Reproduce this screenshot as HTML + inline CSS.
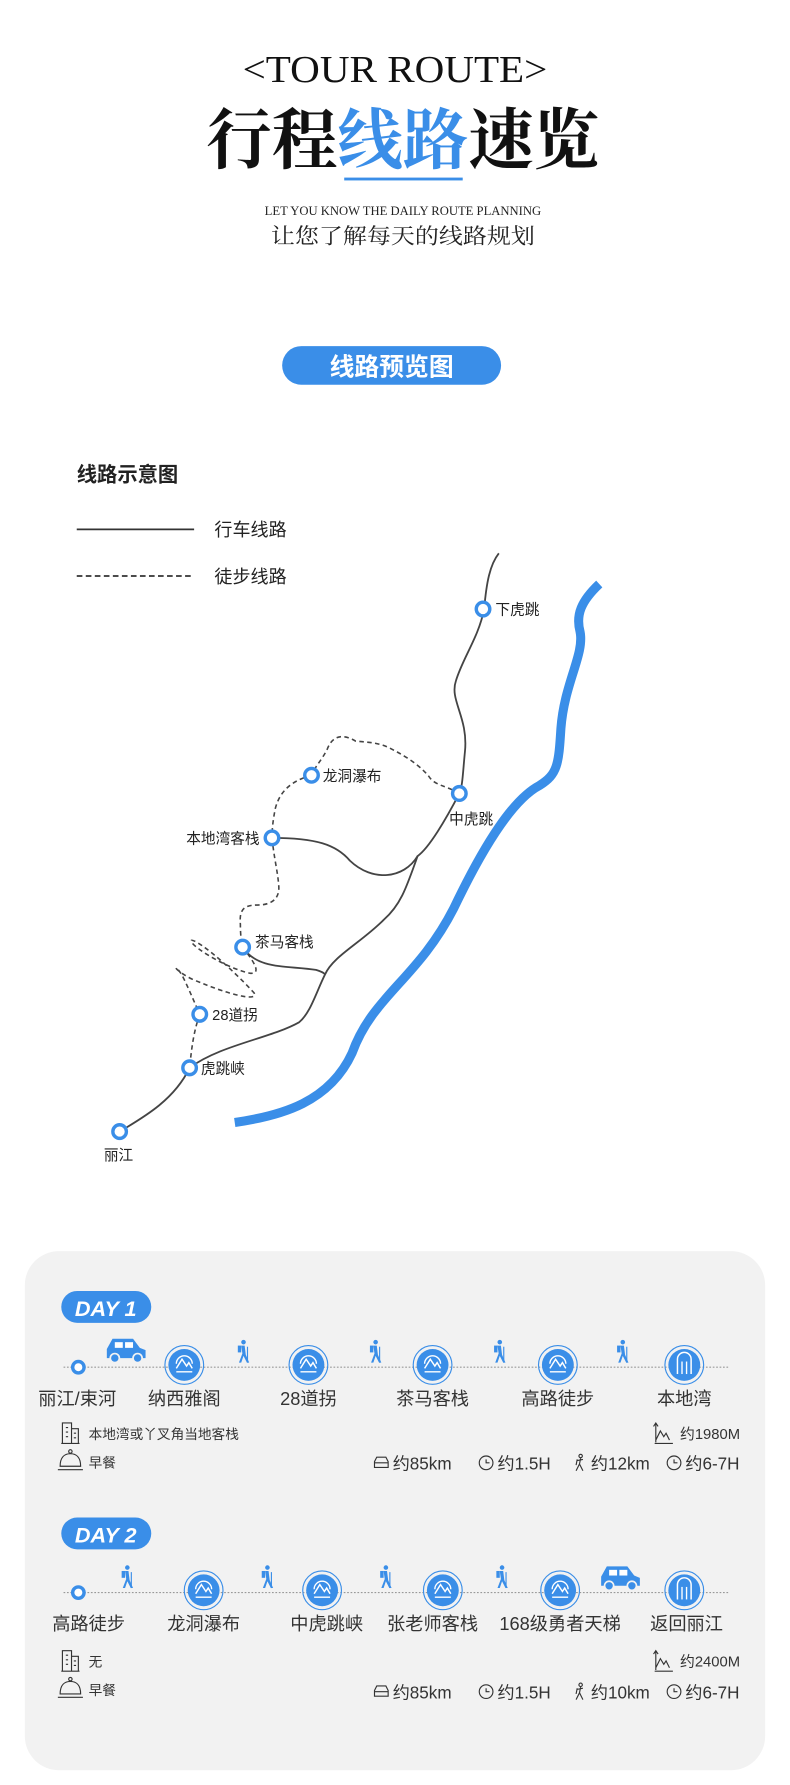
<!DOCTYPE html>
<html><head><meta charset="utf-8">
<style>
html,body{margin:0;padding:0;background:#fff;}
svg{display:block;}
text{font-family:"Liberation Sans","Noto Sans CJK SC",sans-serif;}
.serif{font-family:"Liberation Serif","Noto Serif CJK SC",serif;}
</style></head><body>
<svg width="790" height="1785" viewBox="0 0 700 1568" preserveAspectRatio="none" xmlns="http://www.w3.org/2000/svg">
<defs>
  <g id="node">
    <circle r="17" fill="none" stroke="#3a8ee8" stroke-width="1"/>
    <circle r="14" fill="#3a8ee8"/>
    <path d="M-7,3 L-2,-5 L2,1 L4,-2 L7,3" fill="none" stroke="#fff" stroke-width="1.3"/>
    <path d="M-7,-1 A7,7 0 0 1 7,-1" fill="none" stroke="#fff" stroke-width="1.2"/>
    <line x1="-7" y1="6" x2="7" y2="6" stroke="#fff" stroke-width="1.2"/>
  </g>
  <g id="endnode">
    <circle r="17" fill="none" stroke="#3a8ee8" stroke-width="1"/>
    <circle r="14" fill="#3a8ee8"/>
    <path d="M-6,8 L-6,-5 A6,6 0 0 1 6,-5 L6,8" fill="none" stroke="#fff" stroke-width="1.3"/>
    <line x1="-2" y1="-3" x2="-2" y2="8" stroke="#fff" stroke-width="1.2"/>
    <line x1="2" y1="-3" x2="2" y2="8" stroke="#fff" stroke-width="1.2"/>
  </g>
  <g id="walker" fill="#3a8ee8">
    <circle cx="1" cy="-9" r="2"/>
    <path d="M-4,-6 L-1,-6 L-1,0 L-4,0Z"/>
    <path d="M-1,-6 L2,-6 L3,2 L6,9 L4,9 L1,3 L-1,9 L-3,9 L0,1Z"/>
    <rect x="4" y="-5" width="1" height="14"/>
  </g>
  <g id="car" fill="#3a8ee8">
    <path d="M-17,6 L-17,-2 L-12,-11 L6,-11 L12,-3 L17,-1 L17,6Z"/>
    <rect x="-10" y="-8" width="7" height="5" fill="#fff"/>
    <rect x="-1" y="-8" width="7" height="5" fill="#fff"/>
    <circle cx="-10" cy="6" r="4" stroke="#f2f2f2" stroke-width="1.5"/>
    <circle cx="10" cy="6" r="4" stroke="#f2f2f2" stroke-width="1.5"/>
  </g>
  <g id="clock" fill="none" stroke="#333" stroke-width="1"><circle r="6"/><path d="M0,-3 L0,0 L3,0"/></g>
  <g id="minicar" fill="none" stroke="#333" stroke-width="1"><path d="M-6,4 L-6,-1 L-4,-5 L4,-5 L6,-1 L6,4Z M-6,0 L6,0"/></g>
  <g id="miniwalk" fill="none" stroke="#333" stroke-width="1"><circle cx="0" cy="-6" r="1.5"/><path d="M0,-4 L-1,1 L-4,7 M-1,1 L2,7 M-3,-2 L2,-3 M-3,-3 L-4,2"/></g>
  <g id="bldg" fill="none" stroke="#333" stroke-width="1"><path d="M-7,9 L-7,-9 L1,-9 L1,9 M1,-4 L7,-4 L7,9 M-8,9 L8,9 M-4,-5 L-2,-5 M-4,-1 L-2,-1 M-4,3 L-2,3 M3,0 L5,0 M3,4 L5,4"/></g>
  <g id="bell" fill="none" stroke="#333" stroke-width="1"><circle cx="0" cy="-8" r="1.5"/><path d="M-9,5 C-9,-3 -5,-6 0,-6 C5,-6 9,-3 9,5Z M-11,8 L11,8"/></g>
  <g id="mtn" fill="none" stroke="#333" stroke-width="1"><path d="M-7,8 L-7,-8 M-9,-6 L-7,-9 L-5,-6 M-7,6 L-3,-2 L0,3 L2,0 L5,6 M-8,9 L8,9"/></g>
</defs>

<!-- header -->
<text x="350" y="72" text-anchor="middle" class="serif" font-size="33" fill="#111" textLength="270" lengthAdjust="spacingAndGlyphs">&lt;TOUR ROUTE&gt;</text>
<text x="357" y="143" text-anchor="middle" class="serif" font-size="58" font-weight="bold" fill="#111" textLength="348" lengthAdjust="spacingAndGlyphs">行程<tspan fill="#3a8ee8">线路</tspan>速览</text>
<rect x="305" y="156" width="105" height="2.5" fill="#3a8ee8"/>
<text x="357" y="189" text-anchor="middle" class="serif" font-size="11" fill="#222" textLength="245" lengthAdjust="spacingAndGlyphs">LET YOU KNOW THE DAILY ROUTE PLANNING</text>
<text x="357" y="214" text-anchor="middle" class="serif" font-size="19" fill="#222" textLength="234" lengthAdjust="spacingAndGlyphs">让您了解每天的线路规划</text>

<rect x="250" y="304" width="194" height="34" rx="17" fill="#3a8ee8"/>
<text x="347" y="330" text-anchor="middle" font-size="22" font-weight="bold" fill="#fff">线路预览图</text>

<!-- legend -->
<text x="68" y="423" font-size="18" font-weight="bold" fill="#222">线路示意图</text>
<line x1="68" y1="465" x2="172" y2="465" stroke="#333" stroke-width="1.5"/>
<text x="190" y="471" font-size="16" fill="#222">行车线路</text>
<line x1="68" y1="506" x2="172" y2="506" stroke="#333" stroke-width="1.5" stroke-dasharray="5,3"/>
<text x="190" y="512" font-size="16" fill="#222">徒步线路</text>

<!-- river -->
<path d="M531,513 C515,528 510,540 514,555 C518,575 500,600 497,640 C495,672 494,680 478,690 C455,702 430,740 402,798 C370,860 330,875 312,925 C292,968 250,980 208,986" fill="none" stroke="#3a8ee8" stroke-width="8"/>

<!-- driving roads -->
<g fill="none" stroke="#444" stroke-width="1.6">
<path d="M442,486 C434,496 431,512 429,535 C424,560 410,578 404,598 C398,615 415,630 412,660 C410,680 410,690 407,697 C395,720 380,745 370,752 C360,780 355,795 340,808 C320,828 295,840 288,856 C280,872 275,890 265,898 C240,912 195,918 168,938 C155,965 130,980 106,994"/>
<path d="M241,736 C280,736 298,742 310,756 C330,775 358,772 370,752"/>
<path d="M215,832 C228,852 255,848 280,852 C287,854 288,856 288,856"/>
</g>
<!-- hiking -->
<g fill="none" stroke="#444" stroke-width="1.4" stroke-dasharray="4,3">
<path d="M407,697 C395,690 385,690 380,682 C370,670 355,662 345,657 C335,652 325,652 315,651 C305,645 295,645 290,658 C285,668 280,672 276,681"/>
<path d="M276,681 C258,686 248,695 244,710 C242,720 241,728 241,736"/>
<path d="M241,736 C243,755 246,765 247,778 C248,790 240,795 228,795 C215,795 212,800 213,812 C213,822 214,828 215,832"/>
<path d="M215,832 C225,845 232,855 222,855 C205,852 175,835 170,828 C165,820 190,835 225,872 C230,880 205,875 170,860 C150,850 155,845 162,858 C168,870 172,880 177,891"/>
<path d="M177,891 C172,905 170,918 168,938"/>
</g>
<g fill="#fff" stroke="#3a8ee8" stroke-width="3">
<circle cx="428" cy="535" r="6"/><circle cx="276" cy="681" r="6"/><circle cx="407" cy="697" r="6"/>
<circle cx="241" cy="736" r="6"/><circle cx="215" cy="832" r="6"/><circle cx="177" cy="891" r="6"/>
<circle cx="168" cy="938" r="6"/><circle cx="106" cy="994" r="6"/>
</g>
<g font-size="13" fill="#222">
<text x="439" y="540">下虎跳</text>
<text x="286" y="686">龙洞瀑布</text>
<text x="398" y="724">中虎跳</text>
<text x="230" y="741" text-anchor="end">本地湾客栈</text>
<text x="226" y="832">茶马客栈</text>
<text x="188" y="896">28道拐</text>
<text x="178" y="943">虎跳峡</text>
<text x="92" y="1019">丽江</text>
</g>

<g transform="translate(22,0) scale(1.0092,1) translate(-22,0)">
<!-- card -->
<rect x="22" y="1099" width="650" height="456" rx="30" fill="#f2f2f2"/>

<!-- DAY 1 -->
<rect x="54" y="1134" width="79" height="28" rx="14" fill="#3a8ee8"/>
<text x="93" y="1156" text-anchor="middle" font-size="19" font-weight="bold" font-style="italic" fill="#fff">DAY 1</text>
<line x1="56" y1="1201" x2="640" y2="1201" stroke="#999" stroke-width="1" stroke-dasharray="1.5,1.5"/>
<circle cx="69" cy="1201" r="5" fill="#fff" stroke="#3a8ee8" stroke-width="3"/>
<use href="#car" x="111" y="1187"/>
<use href="#node" x="162" y="1199"/>
<use href="#node" x="271" y="1199"/>
<use href="#node" x="380" y="1199"/>
<use href="#node" x="490" y="1199"/>
<use href="#endnode" x="601" y="1199"/>
<use href="#walker" x="213" y="1188"/>
<use href="#walker" x="329" y="1188"/>
<use href="#walker" x="438" y="1188"/>
<use href="#walker" x="546" y="1188"/>
<g font-size="16" fill="#333" text-anchor="middle">
<text x="68" y="1234">丽江/束河</text>
<text x="162" y="1234">纳西雅阁</text>
<text x="271" y="1234">28道拐</text>
<text x="380" y="1234">茶马客栈</text>
<text x="490" y="1234">高路徒步</text>
<text x="601" y="1234">本地湾</text>
</g>
<use href="#bldg" x="62" y="1259"/>
<text x="78" y="1264" font-size="12" fill="#333">本地湾或丫叉角当地客栈</text>
<use href="#bell" x="62" y="1283"/>
<text x="78" y="1289" font-size="12" fill="#333">早餐</text>
<use href="#mtn" x="583" y="1259"/>
<text x="650" y="1264" text-anchor="end" font-size="13" fill="#333">约1980M</text>
<g font-size="15" fill="#333">
<use href="#minicar" x="335" y="1285"/><text x="345" y="1291">约85km</text>
<use href="#clock" x="427" y="1285"/><text x="437" y="1291">约1.5H</text>
<use href="#miniwalk" x="510" y="1285"/><text x="519" y="1291">约12km</text>
<use href="#clock" x="592" y="1285"/><text x="602" y="1291">约6-7H</text>
</g>

<!-- DAY 2 -->
<rect x="54" y="1333" width="79" height="28" rx="14" fill="#3a8ee8"/>
<text x="93" y="1355" text-anchor="middle" font-size="19" font-weight="bold" font-style="italic" fill="#fff">DAY 2</text>
<line x1="56" y1="1399" x2="640" y2="1399" stroke="#999" stroke-width="1" stroke-dasharray="1.5,1.5"/>
<circle cx="69" cy="1399" r="5" fill="#fff" stroke="#3a8ee8" stroke-width="3"/>
<use href="#node" x="179" y="1397"/>
<use href="#node" x="283" y="1397"/>
<use href="#node" x="389" y="1397"/>
<use href="#node" x="492" y="1397"/>
<use href="#endnode" x="601" y="1397"/>
<use href="#walker" x="111" y="1386"/>
<use href="#walker" x="234" y="1386"/>
<use href="#walker" x="338" y="1386"/>
<use href="#walker" x="440" y="1386"/>
<use href="#car" x="545" y="1387"/>
<g font-size="16" fill="#333" text-anchor="middle">
<text x="78" y="1432">高路徒步</text>
<text x="179" y="1432">龙洞瀑布</text>
<text x="287" y="1432">中虎跳峡</text>
<text x="380" y="1432">张老师客栈</text>
<text x="492" y="1432">168级勇者天梯</text>
<text x="603" y="1432">返回丽江</text>
</g>
<use href="#bldg" x="62" y="1459"/>
<text x="78" y="1464" font-size="12" fill="#333">无</text>
<use href="#bell" x="62" y="1483"/>
<text x="78" y="1489" font-size="12" fill="#333">早餐</text>
<use href="#mtn" x="583" y="1459"/>
<text x="650" y="1464" text-anchor="end" font-size="13" fill="#333">约2400M</text>
<g font-size="15" fill="#333">
<use href="#minicar" x="335" y="1486"/><text x="345" y="1492">约85km</text>
<use href="#clock" x="427" y="1486"/><text x="437" y="1492">约1.5H</text>
<use href="#miniwalk" x="510" y="1486"/><text x="519" y="1492">约10km</text>
<use href="#clock" x="592" y="1486"/><text x="602" y="1492">约6-7H</text>
</g>
</g>
</svg>
</body></html>
